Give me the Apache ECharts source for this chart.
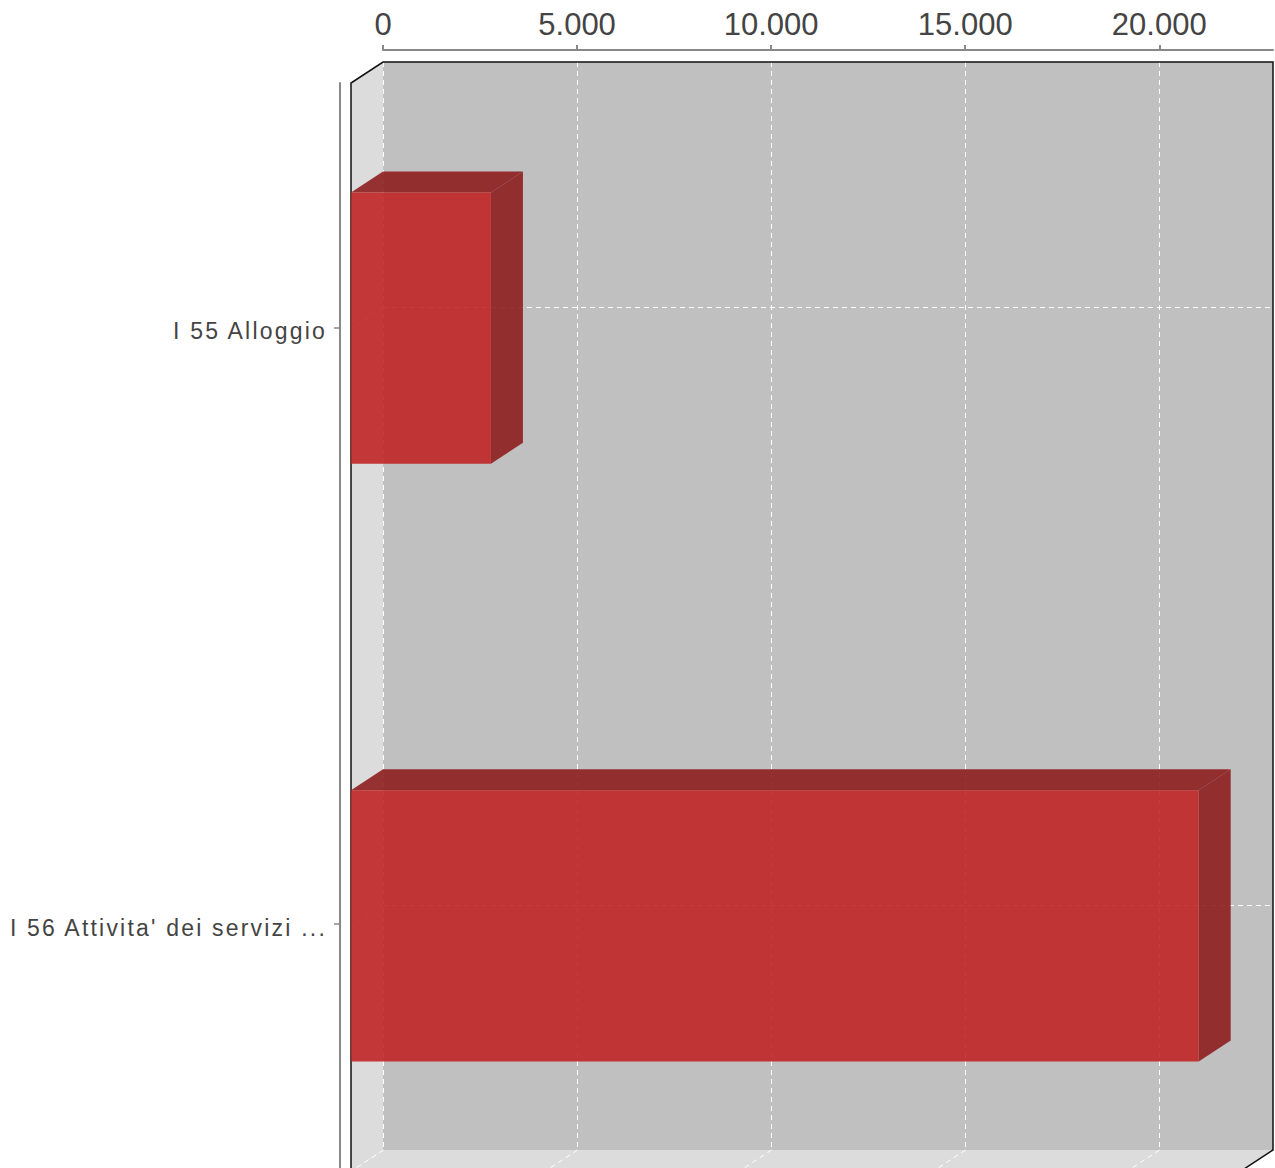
<!DOCTYPE html>
<html><head><meta charset="utf-8">
<script src="https://cdn.jsdelivr.net/npm/echarts@6/dist/echarts.min.js"></script>
<style>
html,body{margin:0;padding:0;background:#fff}
#chart{width:1275px;height:1168px}
#chart text[style*="Liberation"], #chart text[font-family*="Liberation"], #chart tspan[style*="Liberation"]{letter-spacing:2.2px}
</style></head><body><div id="chart"></div>
<script>
// ---- data ----
const categories = ["I 55 Alloggio", "I 56 Attivita' dei servizi ..."];
const values = [3605, 21840];
const xTicks = [0, 5000, 10000, 15000, 20000];
const xMax = 22930;
const yRange = [-0.41, 1.41];
const catIndex = [0, 1];

// ---- style constants ----
const DX = -32, DY = 21;      // depth offset (front = back + offset)
const BAR_HALF = 0.227;       // half bar thickness in category units

function fmt(v){ return String(v).replace(/\B(?=(\d{3})+(?!\d))/g, '.'); }

const chart = echarts.init(document.getElementById('chart'), null, {renderer:'svg'});

const dash = {stroke:'#ffffff', lineWidth:1, lineDash:[5,4]};

const option = {
  animation:false,
  grid:[
    {left:383, top:62, width:890, height:1088, show:true, backgroundColor:'#c0c0c0', borderWidth:0, containLabel:false},
    {left:351, top:83, width:890, height:1088, show:false, containLabel:false}
  ],
  xAxis:[
    {gridIndex:0, type:'value', position:'top', min:0, max:xMax, interval:5000, offset:12,
     axisLine:{show:true, onZero:false, lineStyle:{color:'#888', width:2}},
     axisTick:{show:true, length:5, lineStyle:{color:'#888', width:2}},
     axisLabel:{show:true, fontSize:31, color:'#444', fontFamily:'Arial', margin:10,
       formatter:(v)=>fmt(v), showMaxLabel:false},
     splitLine:{show:false}},
    {gridIndex:1, type:'value', min:0, max:xMax, show:false}
  ],
  yAxis:[
    {gridIndex:0, type:'value', min:yRange[0], max:yRange[1], inverse:true, show:false},
    {gridIndex:1, type:'value', min:yRange[0], max:yRange[1], inverse:true, position:'left', offset:11,
     axisLine:{show:true, onZero:false, lineStyle:{color:'#888', width:2}},
     axisTick:{show:true, length:6, customValues:catIndex, lineStyle:{color:'#888', width:1.5}},
     axisLabel:{show:true, customValues:catIndex, margin:13,
       formatter:(v)=>'{c|' + categories[Math.round(v)] + '}',
       rich:{c:{fontSize:23, color:'#444', fontFamily:'Liberation Sans', padding:[8,0,0,0]}}},
     splitLine:{show:false}}
  ],
  series:[
    {
      type:'custom', xAxisIndex:0, yAxisIndex:0, z:1, silent:true,
      data:[[0,0]],
      renderItem:function(params, api){
        const tl = api.coord([0, yRange[0]]);
        const br = api.coord([xMax, yRange[1]]);
        const L = tl[0], T = tl[1], R = br[0], B = br[1];
        const ch = [];
        ch.push({type:'polygon', shape:{points:[[L,T],[L,B],[L+DX,B+DY],[L+DX,T+DY]]}, style:{fill:'#dcdcdc'}});
        ch.push({type:'polygon', shape:{points:[[L,B],[R,B],[R+DX,B+DY],[L+DX,B+DY]]}, style:{fill:'#dcdcdc'}});
        xTicks.forEach(t=>{
          const x = Math.round(api.coord([t, 0])[0]) + 0.5;
          ch.push({type:'line', shape:{x1:x,y1:T,x2:x,y2:B}, style:dash});
          ch.push({type:'line', shape:{x1:x,y1:B,x2:x+DX,y2:B+DY}, style:dash});
        });
        catIndex.forEach(i=>{
          const y = Math.round(api.coord([0, i])[1]) + 0.5;
          ch.push({type:'line', shape:{x1:L,y1:y,x2:R,y2:y}, style:dash});
          ch.push({type:'line', shape:{x1:L,y1:y,x2:L+DX,y2:y+DY}, style:dash});
        });
        ch.push({type:'polyline', shape:{points:[[L+DX,B+DY+40],[L+DX,T+DY],[L,T],[R,T],[R,B],[R+DX,B+DY]]},
                 style:{stroke:'#111', lineWidth:1.5, fill:null}});
        return {type:'group', children:ch};
      }
    },
    {
      type:'custom', xAxisIndex:0, yAxisIndex:0, z:2, silent:true,
      data: values.map((v,i)=>[v,i]),
      renderItem:function(params, api){
        const v = api.value(0), i = api.value(1);
        const p0 = api.coord([0, i - BAR_HALF]);
        const p1 = api.coord([v, i + BAR_HALF]);
        const x0=p0[0], y0=p0[1], x1=p1[0], y1=p1[1];
        const dark = 'rgba(142,30,31,0.9)';
        return {type:'group', children:[
          {type:'polygon', shape:{points:[[x0,y0],[x1,y0],[x1+DX,y0+DY],[x0+DX,y0+DY]]}, style:{fill:dark}},
          {type:'polygon', shape:{points:[[x1,y0],[x1,y1],[x1+DX,y1+DY],[x1+DX,y0+DY]]}, style:{fill:dark}},
          {type:'rect', shape:{x:x0+DX, y:y0+DY, width:x1-x0, height:y1-y0}, style:{fill:'rgba(192,32,33,0.88)'}}
        ]};
      }
    }
  ]
};
chart.setOption(option);
</script></body></html>
